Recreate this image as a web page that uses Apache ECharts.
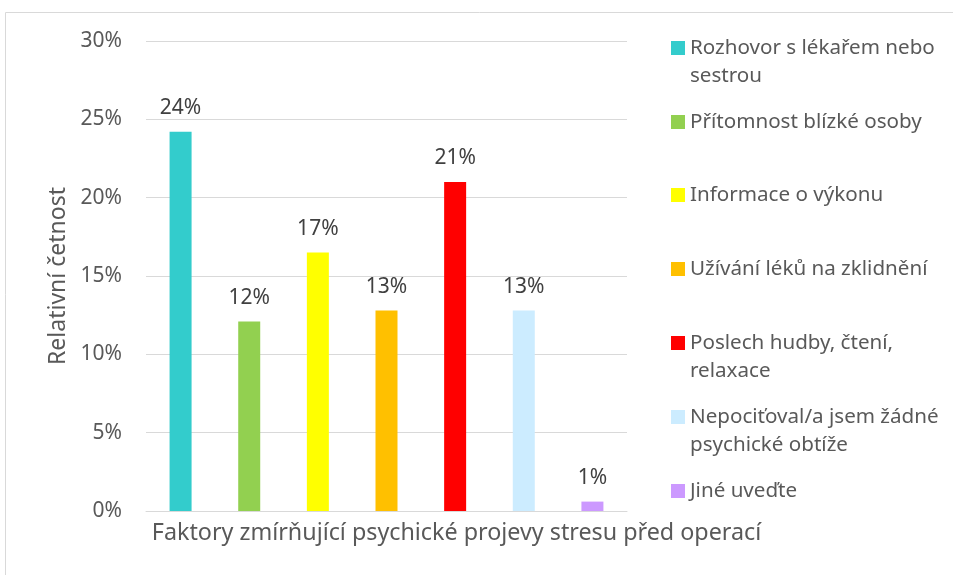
<!DOCTYPE html>
<html>
<head>
<meta charset="utf-8">
<script src="https://cdn.jsdelivr.net/npm/echarts@6/dist/echarts.min.js"></script>
<style>
  html, body { margin: 0; padding: 0; background: #fff; }
  #chart { width: 953px; height: 575px; }
</style>
</head>
<body>
<div id="chart"></div>
<script>
// kategorie na ose x (jedna skupina)
const categories = ['Faktory zmírňující psychické projevy stresu před operací'];
// jednotlivé faktory (série)
const seriesNames = [
  'Rozhovor s lékařem nebo\nsestrou',
  'Přítomnost blízké osoby',
  'Informace o výkonu',
  'Užívání léků na zklidnění',
  'Poslech hudby, čtení,\nrelaxace',
  'Nepociťoval/a jsem žádné\npsychické obtíže',
  'Jiné uveďte'
];
// relativní četnost
const values = [0.242, 0.121, 0.165, 0.128, 0.210, 0.128, 0.006];
const colors = ['#33CCCC', '#92D050', '#FFFF00', '#FFC000', '#FF0000', '#CCECFF', '#CC99FF'];
// osa y
const yTicks = { min: 0, max: 0.3, interval: 0.05 };

const font = "'Noto Sans', sans-serif";
// střed prvního řádku každé položky legendy
const legendRows = [47, 121, 194, 268, 342, 416, 490];

const chart = echarts.init(document.getElementById('chart'));

const series = seriesNames.map((name, i) => ({
  name: name,
  type: 'bar',
  data: [values[i]],
  barWidth: 22,
  barGap: '212%',
  itemStyle: { color: colors[i] },
  label: {
    show: true,
    position: 'top',
    distance: 13,
    color: '#404040',
    fontFamily: font,
    fontSize: 21,
    formatter: p => Math.round(p.value * 100) + '%'
  }
}));

// každá položka legendy zvlášť, aby šlo nastavit nerovnoměrné rozestupy;
// u dvouřádkových položek je čtvereček zarovnaný k prvnímu řádku
const legend = seriesNames.map((name, i) => {
  const twoLines = name.indexOf('\n') >= 0;
  return {
    left: 671,
    top: legendRows[i] - 13,
    padding: 0,
    orient: 'vertical',
    icon: twoLines ? 'path://M0,0L14,0L14,14L0,14Z M0,41.9L0.1,41.9L0.1,42L0,42Z' : 'rect',
    itemWidth: 14,
    itemHeight: twoLines ? 42 : 14,
    selectedMode: false,
    data: [name],
    textStyle: {
      color: '#595959',
      fontFamily: font,
      fontSize: 20.6,
      lineHeight: 28
    }
  };
});

const option = {
  animation: false,
  color: colors,
  grid: { left: 146, right: 326, top: 41, bottom: 64 },
  graphic: [{
    type: 'rect',
    shape: { x: 5.5, y: 12.5, width: 1000, height: 1000 },
    style: { fill: 'none', stroke: '#d9d9d9', lineWidth: 1 },
    silent: true
  }],
  legend: legend,
  xAxis: {
    type: 'category',
    data: categories,
    axisLine: { lineStyle: { color: '#d9d9d9' } },
    axisTick: { show: false },
    axisLabel: {
      color: '#595959',
      fontFamily: font,
      fontSize: 23.3,
      margin: 11,
      padding: [0, 0, 0, 140]
    }
  },
  yAxis: {
    type: 'value',
    min: yTicks.min,
    max: yTicks.max,
    interval: yTicks.interval,
    name: 'Relativní četnost',
    nameLocation: 'middle',
    nameGap: 74,
    nameTextStyle: { color: '#595959', fontFamily: font, fontSize: 23 },
    axisLine: { show: false },
    axisTick: { show: false },
    splitLine: { lineStyle: { color: '#d9d9d9' } },
    axisLabel: {
      color: '#595959',
      fontFamily: font,
      fontSize: 21,
      margin: 24,
      formatter: v => Math.round(v * 100) + '%'
    }
  },
  series: series
};

chart.setOption(option);
</script>
</body>
</html>
